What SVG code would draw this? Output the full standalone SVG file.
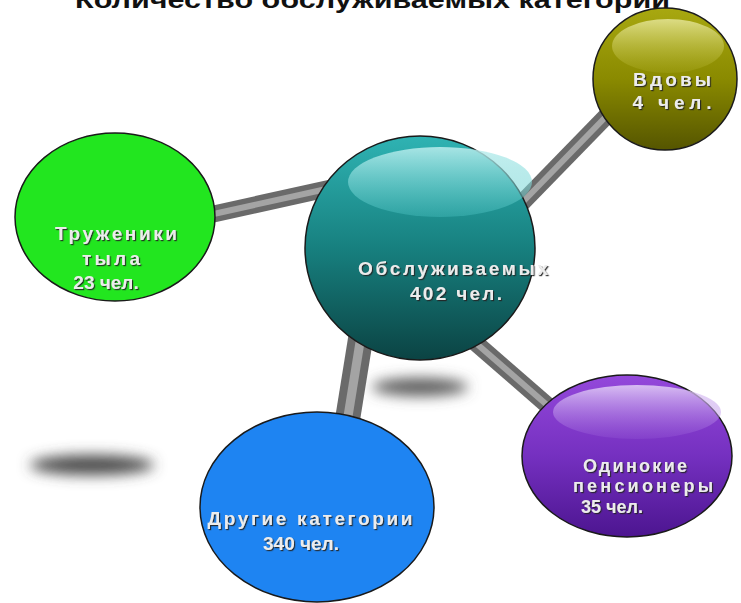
<svg xmlns="http://www.w3.org/2000/svg" width="741" height="603" viewBox="0 0 741 603">
<style>
.lbl{font-family:"Liberation Sans","DejaVu Sans",sans-serif;font-weight:bold;font-size:19px;fill:#ececec;text-anchor:middle;filter:url(#ts)}
.sm{font-size:18px}
.title{font-family:"Liberation Sans","DejaVu Sans",sans-serif;font-weight:bold;font-size:24px;fill:#111}
.rim{stroke:#1a1a1a;stroke-width:1.5}
.bar{stroke:#6a6a6a;stroke-linecap:butt}
.barhi{stroke:#a4a4a4;stroke-linecap:butt}
</style>
<defs>
<filter id="ts" x="-10%" y="-30%" width="120%" height="160%"><feDropShadow dx="1.2" dy="1.2" stdDeviation="0.6" flood-color="#222" flood-opacity="0.9"/></filter>
<filter id="blur" x="-50%" y="-200%" width="200%" height="500%"><feGaussianBlur stdDeviation="7"/></filter>
<linearGradient id="gTeal" x1="0" y1="0" x2="0" y2="1"><stop offset="0" stop-color="#2fb3b3"/><stop offset="0.5" stop-color="#17807f"/><stop offset="1" stop-color="#0b4343"/></linearGradient>
<linearGradient id="gOlive" x1="0" y1="0" x2="0" y2="1"><stop offset="0" stop-color="#a8a810"/><stop offset="0.5" stop-color="#8a8a00"/><stop offset="1" stop-color="#555500"/></linearGradient>
<linearGradient id="gPurple" x1="0" y1="0" x2="0" y2="1"><stop offset="0" stop-color="#9448db"/><stop offset="0.5" stop-color="#7530c0"/><stop offset="1" stop-color="#4c1590"/></linearGradient>
<linearGradient id="gHiT" x1="0" y1="0" x2="0" y2="1"><stop offset="0" stop-color="#bdeeee" stop-opacity="0.85"/><stop offset="1" stop-color="#50c8c8" stop-opacity="0.35"/></linearGradient>
<linearGradient id="gHiO" x1="0" y1="0" x2="0" y2="1"><stop offset="0" stop-color="#e6e69a" stop-opacity="0.85"/><stop offset="1" stop-color="#b8b830" stop-opacity="0.2"/></linearGradient>
<linearGradient id="gHiP" x1="0" y1="0" x2="0" y2="1"><stop offset="0" stop-color="#e4d2f7" stop-opacity="0.85"/><stop offset="1" stop-color="#a56ee0" stop-opacity="0.2"/></linearGradient>
</defs>
<rect width="741" height="603" fill="#ffffff"/>
<text class="title" x="75" y="8" textLength="595" lengthAdjust="spacingAndGlyphs">Количество обслуживаемых категорий</text>
<g id="shadows">
<ellipse cx="92" cy="465" rx="62" ry="10" fill="#4a4a4a" filter="url(#blur)"/>
<ellipse cx="420" cy="387" rx="48" ry="9" fill="#5a5a5a" filter="url(#blur)"/>
</g>
<g id="connectors">
<line class="bar" x1="515" y1="210" x2="625" y2="97" stroke-width="17"/>
<line class="barhi" x1="515" y1="210" x2="625" y2="97" stroke-width="6"/>
<line class="bar" x1="200" y1="217" x2="340" y2="186" stroke-width="17"/>
<line class="barhi" x1="200" y1="217" x2="340" y2="186" stroke-width="6"/>
<line class="bar" x1="366" y1="305" x2="345" y2="435" stroke-width="25"/>
<line class="barhi" x1="366" y1="305" x2="345" y2="435" stroke-width="9"/>
<line class="bar" x1="470" y1="338" x2="570" y2="425" stroke-width="17"/>
<line class="barhi" x1="470" y1="338" x2="570" y2="425" stroke-width="6"/>
</g>
<g id="vdovy">
<ellipse class="rim" cx="665" cy="79" rx="72" ry="71" fill="url(#gOlive)"/>
<ellipse cx="668" cy="46" rx="56" ry="27" fill="url(#gHiO)"/>
<text class="lbl" x="672" y="86" textLength="78" lengthAdjust="spacing">Вдовы</text>
<text class="lbl" x="672" y="109" textLength="79" lengthAdjust="spacing">4 чел.</text>
</g>
<g id="truzheniki">
<ellipse class="rim" cx="115" cy="217" rx="100" ry="84" fill="#22e61f"/>
<text class="lbl" x="116" y="240" textLength="122" lengthAdjust="spacing">Труженики</text>
<text class="lbl" x="111" y="265" textLength="58" lengthAdjust="spacing">тыла</text>
<text class="lbl" x="106" y="289">23 чел.</text>
</g>
<g id="center">
<ellipse class="rim" cx="420" cy="248" rx="115" ry="112" fill="url(#gTeal)"/>
<ellipse cx="440" cy="182" rx="92" ry="35" fill="url(#gHiT)"/>
<text class="lbl" x="453" y="275" textLength="190" lengthAdjust="spacing">Обслуживаемых</text>
<text class="lbl" x="456" y="300" textLength="92" lengthAdjust="spacing">402 чел.</text>
</g>
<g id="odinokie">
<ellipse class="rim" cx="627" cy="456" rx="105" ry="81" fill="url(#gPurple)"/>
<ellipse cx="637" cy="412" rx="84" ry="27" fill="url(#gHiP)"/>
<text class="lbl sm" x="635" y="472" textLength="104" lengthAdjust="spacing">Одинокие</text>
<text class="lbl sm" x="643" y="492" textLength="140" lengthAdjust="spacing">пенсионеры</text>
<text class="lbl sm" x="612" y="513">35 чел.</text>
</g>
<g id="drugie">
<ellipse class="rim" cx="317" cy="507" rx="117" ry="95" fill="#1e84f2"/>
<text class="lbl" x="310" y="525" textLength="205" lengthAdjust="spacing">Другие категории</text>
<text class="lbl" x="301" y="550">340 чел.</text>
</g>
</svg>
